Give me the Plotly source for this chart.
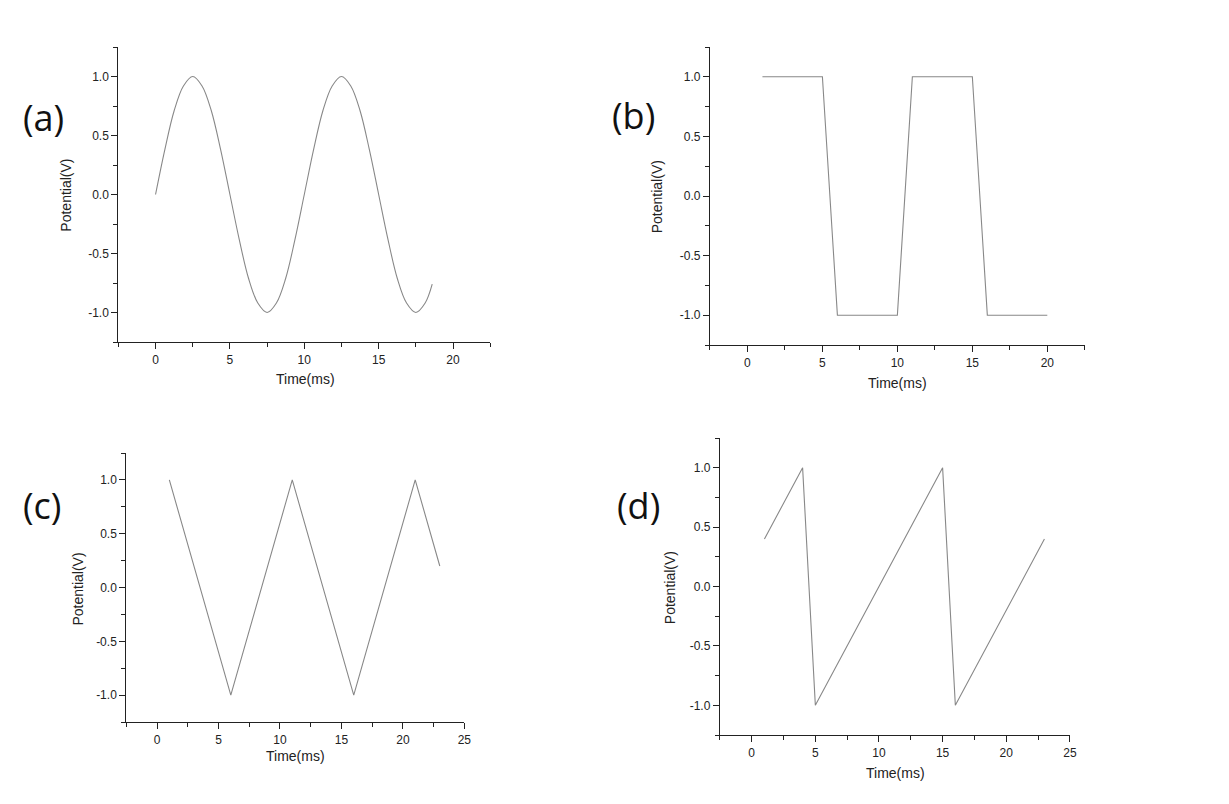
import plotly.graph_objects as go

# ---- data ----
sine_t = [0, 0.625, 1.25, 1.875, 2.5, 3.125, 3.75, 4.375, 5, 5.625, 6.25, 6.875, 7.5,
          8.125, 8.75, 9.375, 10, 10.625, 11.25, 11.875, 12.5, 13.125, 13.75, 14.375,
          15, 15.625, 16.25, 16.875, 17.5, 18.125, 18.6]
sine_v = [0, 0.38, 0.71, 0.92, 1.0, 0.92, 0.71, 0.38, 0, -0.38, -0.71, -0.92, -1.0,
          -0.92, -0.71, -0.38, 0, 0.38, 0.71, 0.92, 1.0, 0.92, 0.71, 0.38,
          0, -0.38, -0.71, -0.92, -1.0, -0.92, -0.76]

square_t = [1, 5, 6, 10, 11, 15, 16, 20]
square_v = [1, 1, -1, -1, 1, 1, -1, -1]

tri_t = [1, 6, 11, 16, 21, 23]
tri_v = [1, -1, 1, -1, 1, 0.2]

saw_t = [1, 4, 5, 15, 16, 23]
saw_v = [0.4, 1, -1, 1, -1, 0.4]

panel_labels = ["(a)", "(b)", "(c)", "(d)"]
x_title = "Time(ms)"
y_title = "Potential(V)"

y_tickvals = [-1.0, -0.5, 0.0, 0.5, 1.0]
y_ticktext = ["-1.0", "-0.5", "0.0", "0.5", "1.0"]

x_ranges = [[-2.5, 22.5], [-2.5, 22.5], [-2.5, 25], [-2.5, 25]]
y_range = [-1.25, 1.25]

# page body has an 8px default margin; compensate
OFF = 8
W, H = 1221, 796

def px(x):
    return (x - OFF) / W

def py(y):
    return 1 - (y - OFF) / H

# pixel boxes of the four plot areas in the reference: (left, right, top, bottom)
boxes = [(119, 493, 47, 342), (714, 1091, 47, 345), (127, 467, 453, 722), (724, 1076, 438, 735)]
label_pos = [(44, 117), (637, 115), (42, 505), (642, 505)]
ytitle_pos = [(66, 195), (661, 197), (78, 589), (674, 588)]
xtitle_pos = [(307, 379), (903, 383), (297, 756), (901, 773)]

series = [(sine_t, sine_v, "spline"), (square_t, square_v, "linear"),
          (tri_t, tri_v, "linear"), (saw_t, saw_v, "linear")]

fig = go.Figure()
layout = dict(
    width=W, height=H, margin=dict(l=0, r=0, t=0, b=0),
    paper_bgcolor="white", plot_bgcolor="white", showlegend=False,
    font=dict(family="Liberation Sans, Arial, sans-serif", size=12, color="#222"),
)
annotations = []

for i, (t, v, shape) in enumerate(series):
    n = "" if i == 0 else str(i + 1)
    fig.add_trace(go.Scatter(x=t, y=v, mode="lines", xaxis="x" + n, yaxis="y" + n,
                             line=dict(color="#888888", width=1.1, shape=shape),
                             hoverinfo="skip"))
    l, r, tp, bt = boxes[i]
    layout["xaxis" + n] = dict(
        domain=[px(l), px(r)], anchor="y" + n, range=x_ranges[i],
        showline=True, linecolor="#222", linewidth=1.2, showgrid=False, zeroline=False,
        ticks="outside", ticklen=6, tickwidth=1.2, tickcolor="#222", dtick=5, tick0=0,
        minor=dict(ticks="outside", ticklen=4, tickwidth=1, tickcolor="#222", dtick=2.5, showgrid=False),
        tickfont=dict(size=12, color="#222"), fixedrange=True,
    )
    layout["yaxis" + n] = dict(
        domain=[py(bt), py(tp)], anchor="x" + n, range=y_range,
        showline=True, linecolor="#222", linewidth=1.2, showgrid=False, zeroline=False,
        ticks="outside", ticklen=6, tickwidth=1.2, tickcolor="#222",
        tickmode="array", tickvals=y_tickvals, ticktext=y_ticktext,
        minor=dict(ticks="outside", ticklen=4, tickwidth=1, tickcolor="#222", dtick=0.25, tick0=0, showgrid=False),
        tickfont=dict(size=12, color="#222"), fixedrange=True,
    )
    lx, ly = label_pos[i]
    annotations.append(dict(text=panel_labels[i], x=px(lx), y=py(ly), xref="paper", yref="paper",
                            showarrow=False, xanchor="center", yanchor="middle",
                            font=dict(family="Open Sans, Noto Sans, sans-serif", size=36, color="#111")))
    yx, yy = ytitle_pos[i]
    annotations.append(dict(text=y_title, x=px(yx), y=py(yy), xref="paper", yref="paper",
                            showarrow=False, textangle=-90, xanchor="center", yanchor="middle",
                            font=dict(size=14, color="#222")))
    xx, xy = xtitle_pos[i]
    annotations.append(dict(text=x_title, x=px(xx), y=py(xy), xref="paper", yref="paper",
                            showarrow=False, xanchor="center", yanchor="middle",
                            font=dict(size=14, color="#222")))

layout["annotations"] = annotations
fig.update_layout(**layout)
fig.write_html("out.html")
